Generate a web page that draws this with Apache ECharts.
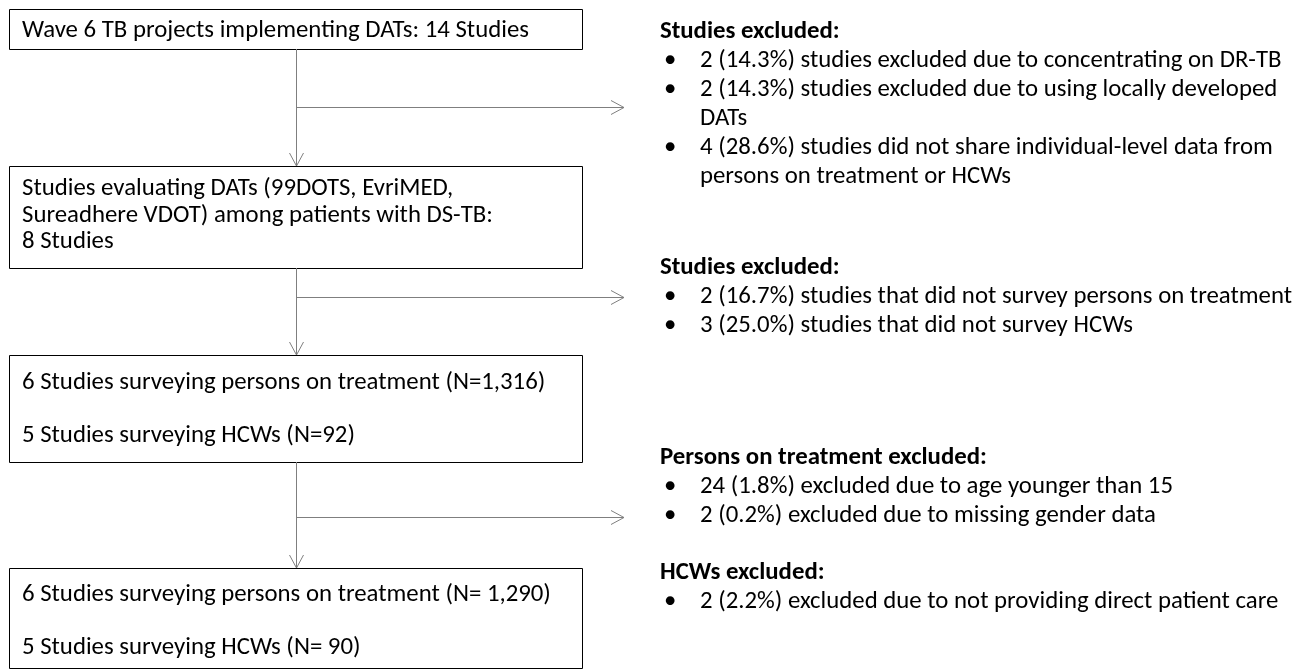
<!DOCTYPE html>
<html><head><meta charset="utf-8">
<script src="https://cdn.jsdelivr.net/npm/echarts@6/dist/echarts.min.js"></script>
<style>html,body{margin:0;padding:0;background:#fff}#c{width:1311px;height:669px}</style>
</head><body><div id="c"></div>
<script>
// ---- content ----
const boxTexts = [
  ["Wave 6 TB projects implementing DATs: 14 Studies"],
  ["Studies evaluating DATs (99DOTS, EvriMED,", "Sureadhere VDOT) among patients with DS-TB:", "8 Studies"],
  ["6 Studies surveying persons on treatment (N=1,316)", "", "5 Studies surveying HCWs (N=92)"],
  ["6 Studies surveying persons on treatment (N= 1,290)", "", "5 Studies surveying HCWs (N= 90)"]
];
const exclusionHeaders = ["Studies excluded:", "Studies excluded:", "Persons on treatment excluded:", "HCWs excluded:"];
const exclusionItems = [
  [["2 (14.3%) studies excluded due to concentrating on DR-TB"],
   ["2 (14.3%) studies excluded due to using locally developed", "DATs"],
   ["4 (28.6%) studies did not share individual-level data from", "persons on treatment or HCWs"]],
  [["2 (16.7%) studies that did not survey persons on treatment"],
   ["3 (25.0%) studies that did not survey HCWs"]],
  [["24 (1.8%) excluded due to age younger than 15"],
   ["2 (0.2%) excluded due to missing gender data"]],
  [["2 (2.2%) excluded due to not providing direct patient care"]]
];

// ---- layout ----
const FONT = "Carlito, 'Liberation Sans Narrow', 'Open Sans', sans-serif";
const FS = 24.8;
const LH_LIST = 29;
const LH_BOX = 26.5;
const boxX = 9, boxW = 573;
const boxes = [[9, 49, 31], [166, 268, 189], [355, 462, 383], [568, 668, 595]];
const lineX = 296, arrowTip = 624;
const branchY = [107, 297, 517];
const groupY = [32, 268, 458, 573];
const headX = 660, bulletX = 664, itemX = 700;
const lineColor = '#7f7f7f';

const g = [];
boxes.forEach((b, i) => {
  g.push({type:'rect', shape:{x:boxX+0.5, y:b[0]+0.5, width:boxW, height:b[1]-b[0]},
    style:{fill:'#fff', stroke:'#000', lineWidth:1}});
  boxTexts[i].forEach((t, j) => {
    if (!t) return;
    g.push({type:'text', x:22, y:b[2] + j*LH_BOX,
      style:{text:t, font:FS+'px '+FONT, fill:'#000', textVerticalAlign:'middle', textAlign:'left'}});
  });
});
// connectors
for (let i = 0; i < 3; i++) {
  const y0 = boxes[i][1], y1 = boxes[i+1][0];
  g.push({type:'line', shape:{x1:lineX+0.5, y1:y0, x2:lineX+0.5, y2:y1}, style:{stroke:lineColor, lineWidth:1}});
  g.push({type:'polyline', shape:{points:[[lineX-6.5, y1-13],[lineX+0.5, y1],[lineX+7.5, y1-13]]}, style:{stroke:lineColor, lineWidth:1, fill:null}});
  const by = branchY[i] + 0.5;
  g.push({type:'line', shape:{x1:lineX, y1:by, x2:arrowTip, y2:by}, style:{stroke:lineColor, lineWidth:1}});
  g.push({type:'polyline', shape:{points:[[arrowTip-13, by-7],[arrowTip, by],[arrowTip-13, by+7]]}, style:{stroke:lineColor, lineWidth:1, fill:null}});
}
// exclusions
exclusionHeaders.forEach((h, i) => {
  let y = groupY[i];
  g.push({type:'text', x:headX, y:y, style:{text:h, font:'bold '+FS+'px '+FONT, fill:'#000', textVerticalAlign:'middle'}});
  exclusionItems[i].forEach(item => {
    item.forEach((line, k) => {
      y += LH_LIST;
      if (k === 0) g.push({type:'text', x:bulletX, y:y, style:{text:'•', font:FS+'px '+FONT, fill:'#000', textVerticalAlign:'middle'}});
      g.push({type:'text', x:itemX, y:y, style:{text:line, font:FS+'px '+FONT, fill:'#000', textVerticalAlign:'middle'}});
    });
  });
});

const chart = echarts.init(document.getElementById('c'), null, {renderer:'canvas'});
chart.setOption({animation:false, graphic:{elements:g}});
</script></body></html>
